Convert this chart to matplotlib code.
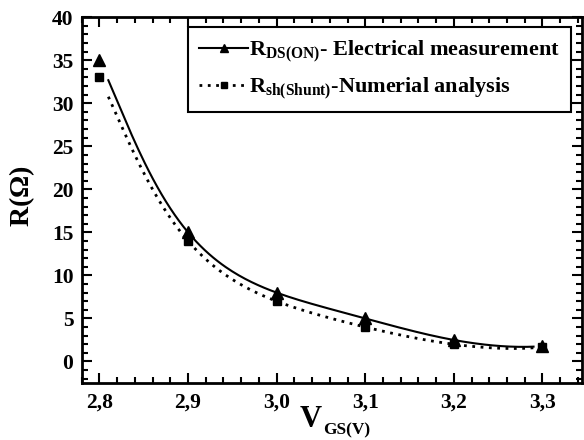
import numpy as np
import matplotlib.pyplot as plt
from matplotlib.ticker import MultipleLocator, FormatStrFormatter

plt.rcParams['font.family'] = ['Liberation Serif', 'DejaVu Serif']
plt.rcParams['font.weight'] = 'bold'
plt.rcParams['mathtext.fontset'] = 'custom'
plt.rcParams['mathtext.rm'] = 'Liberation Serif:bold'
plt.rcParams['mathtext.bf'] = 'Liberation Serif:bold'
plt.rcParams['mathtext.it'] = 'Liberation Serif:bold'

vgs = [2.8, 2.9, 3.0, 3.1, 3.2, 3.3]
r_ds_on = [35.0, 15.0, 8.0, 5.0, 2.5, 1.8]
r_shunt = [33.0, 14.0, 7.0, 4.0, 2.0, 1.7]

# smooth curves through the measured points (poly fit of log R)
x = np.array(vgs)
xf = np.linspace(2.81, 3.29, 200)
fit1 = np.exp(np.polyval(np.polyfit(x, np.log(r_ds_on), 5), xf))
fit2 = np.exp(np.polyval(np.polyfit(x, np.log(r_shunt), 5), xf))

fig = plt.figure(figsize=(5.84, 4.4), dpi=100)
ax = fig.add_axes([0.140, 0.1295, 0.857, 0.8315])

ax.plot(xf, fit1, 'k-', lw=1.5)
ax.plot(xf, fit2, 'k', ls=(0, (1, 2)), lw=2)
ax.plot(vgs, r_ds_on, 'k^', ms=8)
ax.plot(vgs, r_shunt, 'ks', ms=6)

# legend proxies
h1, = ax.plot([], [], 'k-', marker='^', ms=6, lw=1.5)
h2, = ax.plot([], [], 'k', ls=(0, (1, 2)), marker='s', ms=5, lw=2)
leg = ax.legend([h1, h2],
                [r'$\mathbf{R_{DS(ON)}}$- Electrical measurement',
                 r'$\mathbf{R_{sh(Shunt)}}$-Numerial analysis'],
                loc='upper right', bbox_to_anchor=(0.978, 0.972),
                prop={'size': 16, 'weight': 'bold'}, handlelength=2.2,
                fancybox=False, framealpha=1, borderpad=0.5,
                labelspacing=0.5, handletextpad=0.05, borderaxespad=0)
leg.get_frame().set_edgecolor('k')
leg.get_frame().set_linewidth(1.5)

ax.set_xlim(2.78, 3.345)
ax.set_ylim(-2.5, 40)
ax.xaxis.set_major_locator(MultipleLocator(0.1))
ax.xaxis.set_minor_locator(MultipleLocator(0.02))
ax.yaxis.set_major_locator(MultipleLocator(5))
ax.yaxis.set_minor_locator(MultipleLocator(1))
ax.xaxis.set_major_formatter(lambda v, p: ('%.1f' % v).replace('.', ','))
ax.yaxis.set_major_formatter(FormatStrFormatter('%d'))

ax.tick_params(which='both', direction='in', top=True, right=True, width=1.5,
               labelsize=15.5)
ax.tick_params(which='major', length=7)
ax.tick_params(axis='x', which='major', pad=7)
ax.tick_params(axis='y', which='major', pad=6)
ax.tick_params(which='minor', length=4)
for s in ax.spines.values():
    s.set_linewidth(2)

ax.set_ylabel(r'R($\Omega$)', fontsize=20, fontweight='bold', va='center')
ax.yaxis.set_label_coords(-0.12, 0.51)

# x label: big V with a small subscript, placed below the tick labels
fig.text(300 / 584, 1 - 427 / 440, 'V', fontsize=22, fontweight='bold',
         va='baseline', ha='left')
fig.text(323 / 584, 1 - 434 / 440, 'GS(V)', fontsize=12.5, fontweight='bold',
         va='baseline', ha='left')

fig.savefig('out.png', dpi=100)
